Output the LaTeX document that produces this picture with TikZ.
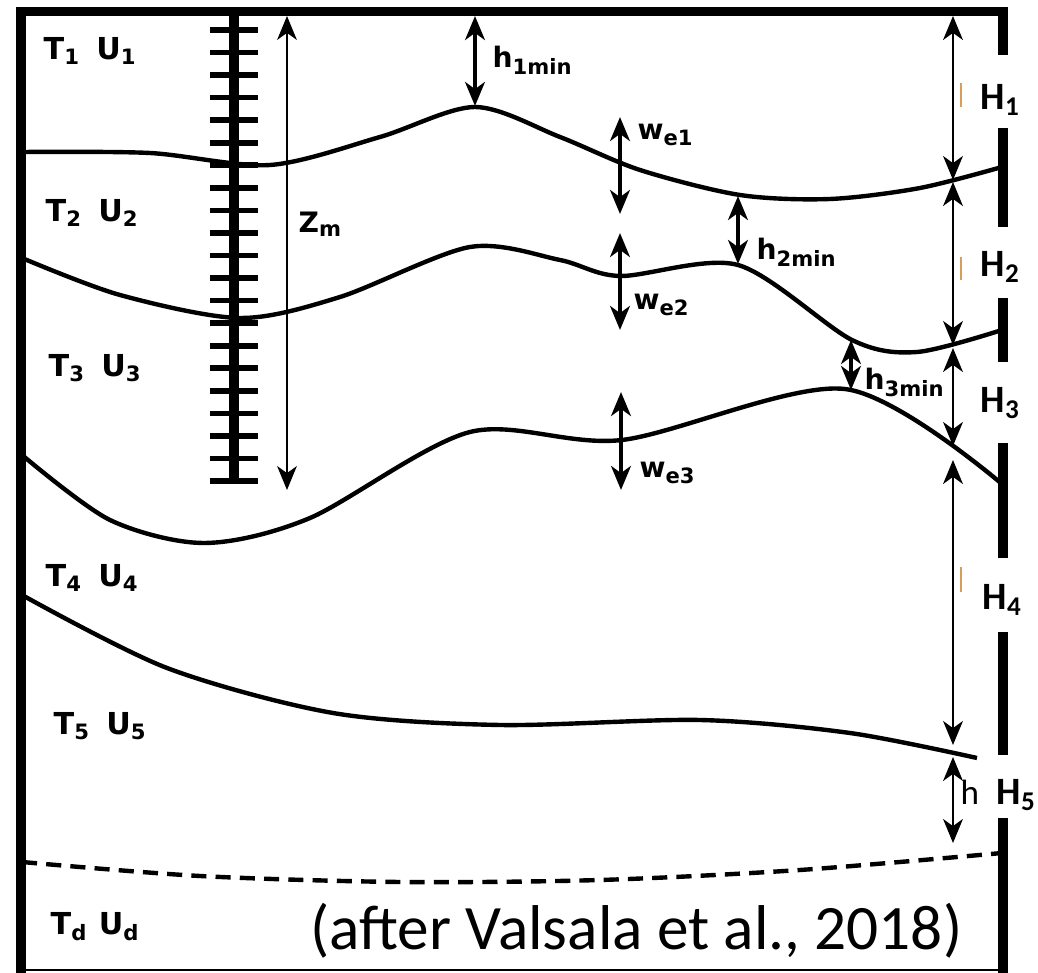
\documentclass[tikz,border=0pt]{standalone}
\usepackage{fontspec}
\newfontfamily\dejavu{DejaVu Sans}
\newfontfamily\carlito{Carlito}
\usetikzlibrary{arrows.meta}
\definecolor{marktan}{RGB}{214,160,90}

\begin{document}
\begin{tikzpicture}[x=0.01cm, y=-0.01cm, >={Stealth[length=6.8pt,width=5.6pt,inset=2pt]},
  wall/.style={line width=2.6pt},
  iface/.style={line width=1.25pt},
  dimthick/.style={<->, line width=1.3pt},
  dimthin/.style={<->, line width=0.8pt},
  layerlbl/.style={font=\dejavu\bfseries\fontsize{8.6}{10}\selectfont, anchor=base west, inner sep=0pt},
  symlbl/.style={font=\dejavu\bfseries\fontsize{8}{10}\selectfont, anchor=base west, inner sep=0pt},
  hlbl/.style={font=\carlito\bfseries\fontsize{11}{13}\selectfont, anchor=base west, inner sep=0pt}]
  \useasboundingbox (0,0) rectangle (1038,973);
  % box: left wall, top, bottom, right wall broken at the H labels
  \draw[wall, line join=miter] (21,973) -- (21,11.5) -- (1003,11.5) -- (1003,55);
  \foreach \a/\b in {128/227, 298/362, 443/558, 632/755, 818/973}
    \draw[wall] (1003,\a) -- (1003,\b);
  \draw[line width=0.8pt] (21,970) -- (1003,970);
  % sounding rod
  \draw[line width=2.9pt] (234,11.5) -- (234,481);
  \foreach \i in {0,...,20}
    \draw[line width=1.6pt] (210,30+22.55*\i) -- (258,30+22.55*\i);
  % layer interfaces
  \draw[iface] plot[smooth] coordinates {(22,152) (150,153) (270,165) (380,137) (475,107) (560,137) (640,170) (740,195) (830,199) (920,188) (1002,167)};
  \draw[iface] plot[smooth] coordinates {(22,258) (120,295) (240,318) (340,297) (470,247) (560,260) (620,276) (738,265) (852,340) (917,352) (1002,330)};
  \draw[iface] plot[smooth] coordinates {(22,455) (110,520) (205,543) (310,518) (470,432) (622,440) (845,389) (1002,484)};
  \draw[iface] plot[smooth] coordinates {(22,595) (167,668) (333,713) (500,725) (700,720) (850,733) (977,758)};
  \draw[iface, dash pattern=on 4.3pt off 2.6pt] plot[smooth] coordinates {(22,862) (200,876) (400,882) (600,880) (800,870) (1002,853)};
  % arrow ends
  \coordinate (zmtop) at (287,16);   \coordinate (zmbot) at (287,490);
  \coordinate (h1top) at (475,16);   \coordinate (h1bot) at (475,106);
  \coordinate (w1top) at (620,117);  \coordinate (w1bot) at (620,214);
  \coordinate (h2top) at (738,196);  \coordinate (h2bot) at (738,264);
  \coordinate (w2top) at (620,233);  \coordinate (w2bot) at (620,330);
  \coordinate (h3top) at (851,340);  \coordinate (h3bot) at (851,390);
  \coordinate (w3top) at (621,392);  \coordinate (w3bot) at (621,490);
  \coordinate (H1top) at (953,16);   \coordinate (H1bot) at (953,180);
  \coordinate (H2top) at (953,182);  \coordinate (H2bot) at (953,345);
  \coordinate (H3top) at (953,348);  \coordinate (H3bot) at (953,446);
  \coordinate (H4top) at (953,460);  \coordinate (H4bot) at (953,745);
  \coordinate (H5top) at (953,757);  \coordinate (H5bot) at (953,843);
  % depth arrows
  \draw[<->, line width=0.6pt] (zmtop) -- (zmbot);
  \draw[dimthick] (h1top) -- (h1bot);
  \draw[dimthick] (w1top) -- (w1bot);
  \draw[dimthick] (h2top) -- (h2bot);
  \draw[dimthick] (w2top) -- (w2bot);
  \draw[dimthick] (h3top) -- (h3bot);
  \draw[dimthick] (w3top) -- (w3bot);
  \foreach \k in {1,...,5}
    \draw[dimthin] (H\k top) -- (H\k bot);
  % stray marks
  \foreach \a/\b in {83/107, 257/280, 567/592}
    \draw[marktan, line width=0.6pt] (961,\a) -- (961,\b);
  % layer labels
  \node[layerlbl] (lay1) at (43,60)  {T\textsubscript{1}\ \,U\textsubscript{1}};
  \node[layerlbl] (lay2) at (45,222) {T\textsubscript{2}\ \,U\textsubscript{2}};
  \node[layerlbl] (lay3) at (48,377) {T\textsubscript{3}\ \,U\textsubscript{3}};
  \node[layerlbl] (lay4) at (45,587) {T\textsubscript{4}\ \,U\textsubscript{4}};
  \node[layerlbl] (lay5) at (53,735) {T\textsubscript{5}\ \,U\textsubscript{5}};
  \node[layerlbl] (layd) at (50,935) {T\textsubscript{d}\ U\textsubscript{d}};
  % symbols
  \node[symlbl] (zm) at (298,233) {Z\textsubscript{m}};
  \node[symlbl] (h1min) at (492,68)  {h\textsubscript{1min}};
  \node[symlbl] (we1)   at (637,140) {w\textsubscript{e1}};
  \node[symlbl] (h2min) at (756,260) {h\textsubscript{2min}};
  \node[symlbl] (we2)   at (633,310) {w\textsubscript{e2}};
  \node[symlbl] (h3min) at (864,390) {h\textsubscript{3min}};
  \node[symlbl] (we3)   at (639,478) {w\textsubscript{e3}};
  % layer thicknesses
  \node[hlbl] (H1) at (980,110) {H\textsubscript{1}};
  \node[hlbl] (H2) at (980,277) {H\textsubscript{2}};
  \node[hlbl] (H3) at (980,413) {H\textsubscript{3}};
  \node[hlbl] (H4) at (982,610) {H\textsubscript{4}};
  \node[hlbl] (H5) at (996,805) {H\textsubscript{5}};
  \node[font=\carlito\fontsize{10}{12}\selectfont, anchor=base west, inner sep=0pt] (hstray) at (960,805) {h};
  \node[font=\carlito\fontsize{18}{20}\selectfont, anchor=base east, inner sep=0pt] (source) at (963,950) {(after Valsala et al., 2018)};
\end{tikzpicture}
\end{document}
